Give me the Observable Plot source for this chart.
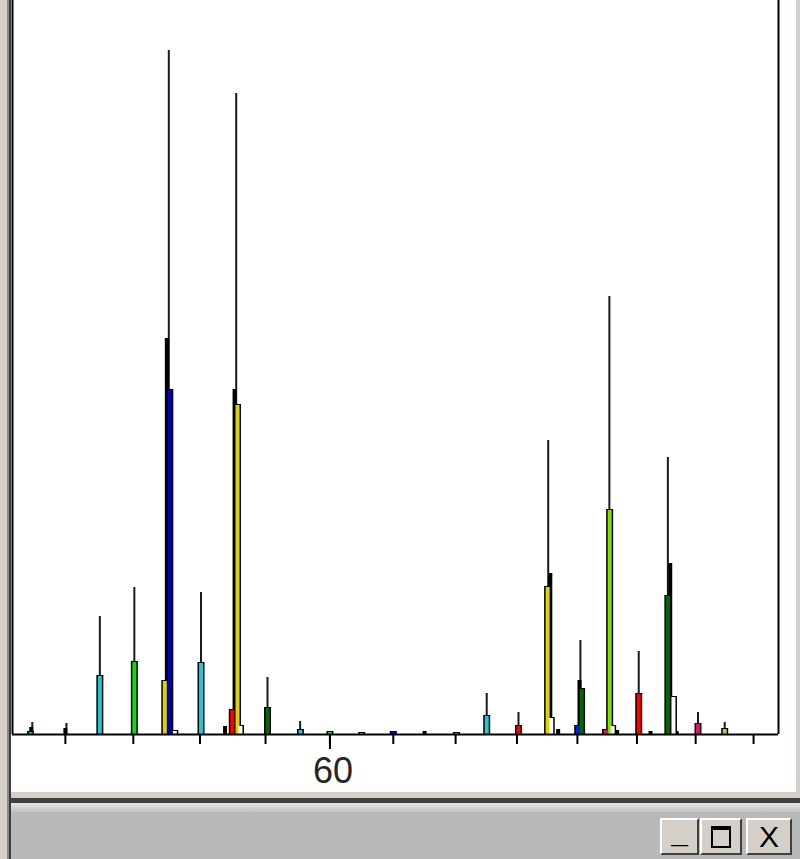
<!DOCTYPE html>
<html>
<head>
<meta charset="utf-8">
<script src="https://cdn.jsdelivr.net/npm/d3@7"></script>
<script src="https://cdn.jsdelivr.net/npm/@observablehq/plot@0.6"></script>
<style>
  html, body { margin: 0; padding: 0; background: #ffffff; }
  #win { position: relative; width: 800px; height: 859px; overflow: hidden; background: #ffffff; }
  #chart { position: absolute; left: 0; top: 0; }
  .c { position: absolute; }
  .btn { position: absolute; top: 818px; height: 37px; background: #d4d0c8;
         border-top: 2px solid #ffffff; border-left: 2px solid #ffffff;
         border-right: 2px solid #404040; border-bottom: 2px solid #404040;
         box-sizing: border-box; font-family: "Liberation Sans", Arial, sans-serif;
         color: #000; text-align: center; }
</style>
</head>
<body>
<div id="win">
  <div id="chart"></div>
  <!-- window chrome -->
  <div class="c" style="left:0;top:0;width:7px;height:859px;background:#d4d0c8"></div>
  <div class="c" style="left:7px;top:0;width:2px;height:859px;background:#8a8a8a"></div>
  <div class="c" style="left:9px;top:0;width:2px;height:859px;background:#3c3c3c"></div>
  <div class="c" style="left:796px;top:0;width:4px;height:792px;background:#d4d0c8"></div>
  <div class="c" style="left:11px;top:792px;width:789px;height:6px;background:#d4d0c8"></div>
  <div class="c" style="left:11px;top:798px;width:789px;height:5px;background:#404040"></div>
  <div class="c" style="left:11px;top:803px;width:789px;height:9px;background:linear-gradient(#e2e2e2,#c4c4c4)"></div>
  <div class="c" style="left:11px;top:812px;width:789px;height:47px;background:#b9b9b9"></div>
  <div class="btn" style="left:660px;width:39px;font-size:30px;line-height:26px;font-weight:bold">_</div>
  <div class="btn" style="left:700px;width:42px;">
    <div style="position:absolute;left:9px;top:6px;width:20px;height:22px;box-sizing:border-box;border:2px solid #000;border-top-width:4px"></div>
  </div>
  <div class="btn" style="left:746px;width:46px;font-size:30px;line-height:33px">X</div>
</div>
<script>
// ---- data (intensity = height above baseline, masses read from peak positions) ----
const xDomain = [50.47, 74.87];
const minorTicks = [52, 54, 56, 58, 60, 62, 64, 66, 68, 70, 72, 74];
const majorTicks = [60];

// thin black stems (measured peak maxima)
const stemMass  = [51.04, 52.03, 53.01, 54.03, 55.06, 56.03, 57.10, 58.06, 59.07, 65.01, 66.05, 67.03, 68.10, 69.07, 70.06, 71.05, 72.08, 73.00];
const stemValue = [12, 11, 118, 147, 684, 142, 641, 57, 13, 41, 22, 294, 94, 438, 83, 277, 22, 12];

// black bars
const blackMass  = [51.01, 52.00, 55.00, 56.76, 57.05, 63.00, 67.10, 67.36, 68.07, 69.33, 70.46, 71.13, 71.35];
const blackValue = [7, 6, 396, 8, 345, 3, 161, 5, 54, 4, 3, 171, 3];

// coloured bars
const barMass  = [50.99, 53.01, 54.03, 54.94, 55.09, 55.24, 56.03, 56.98, 57.14, 57.23, 58.06, 59.08, 60.00, 61.00, 62.00, 64.03, 65.01, 66.05, 67.01, 67.13, 68.01, 68.14, 68.94, 69.08, 69.18, 70.06, 71.05, 71.24, 72.08, 73.00];
const barValue = [3, 59, 73, 54, 345, 4, 72, 25, 330, 9, 27, 5, 3, 2, 3, 2, 19, 9, 148, 17, 9, 46, 5, 225, 9, 41, 139, 38, 11, 6];
const barColor = ["#10d010", "#22c6d6", "#10d810", "#dcd400", "#0000b8", "#ffffff", "#22c6d6", "#ff0000", "#dcd400", "#ffffff",
                  "#006800", "#22c6d6", "#10d810", "#dcd400", "#0000e0", "#dcd400", "#22c6d6", "#ff0000", "#dcd400", "#ffffff",
                  "#0020e0", "#006800", "#e0107a", "#80e000", "#ffffff", "#ff0000", "#006800", "#ffffff", "#e0107a", "#c8c040"];

const stems  = stemMass.map((m, i) => ({mass: m, value: stemValue[i]}));
const blacks = blackMass.map((m, i) => ({mass: m, value: blackValue[i]}));
const bars   = barMass.map((m, i) => ({mass: m, value: barValue[i], color: barColor[i]}));

const chart = Plot.plot({
  width: 800,
  height: 792,
  marginLeft: 12,
  marginRight: 22,
  marginTop: 0,
  marginBottom: 58,
  x: {type: "sqrt", domain: xDomain, label: null},
  y: {domain: [0, 734], axis: null, label: null},
  color: {type: "identity"},
  style: {background: "#ffffff", fontFamily: "'Liberation Sans', Arial, sans-serif", color: "#000"},
  marks: [
    Plot.ruleX(stems, {x: "mass", y1: 0, y2: "value", stroke: "#1a1a1a", strokeWidth: 2}),
    Plot.ruleX(blacks, {x: "mass", y1: 0, y2: "value", stroke: "#000", strokeWidth: 4}),
    Plot.ruleX(bars, {x: "mass", y1: 0, y2: "value", stroke: "#000", strokeWidth: 7}),
    Plot.ruleX(bars, {x: "mass", y1: 0, y2: "value", stroke: "color", strokeWidth: 4, dy: 1}),
    Plot.ruleX(xDomain, {stroke: "#000", strokeWidth: 2}),
    Plot.ruleY([0], {stroke: "#000", strokeWidth: 2}),
    Plot.axisX(minorTicks, {tickSize: 10, tickFormat: () => "", strokeWidth: 2, stroke: "#000", label: null}),
    Plot.axisX(majorTicks, {tickSize: 15, tickFormat: () => "", strokeWidth: 2, stroke: "#000", label: null}),
    Plot.text(majorTicks, {x: d => d, text: d => String(d), frameAnchor: "bottom", lineAnchor: "top",
                           dy: 23, dx: 3, fontSize: 36, fill: "#262626"})
  ]
});
document.getElementById("chart").appendChild(chart);
</script>
</body>
</html>
